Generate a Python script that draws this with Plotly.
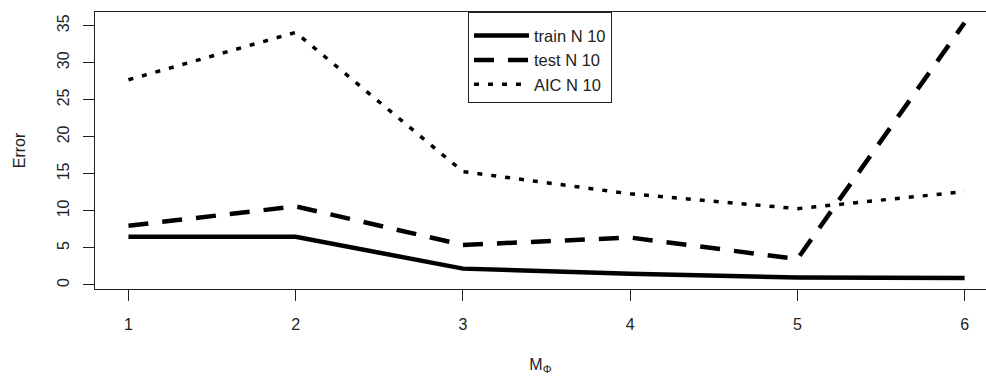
import plotly.graph_objects as go

m_phi = [1, 2, 3, 4, 5, 6]
train_n10 = [6.5, 6.5, 2.2, 1.5, 1.0, 0.95]
test_n10 = [8.0, 10.6, 5.4, 6.4, 3.5, 35.4]
aic_n10 = [27.7, 34.1, 15.3, 12.3, 10.3, 12.6]
y_ticks = [0, 5, 10, 15, 20, 25, 30, 35]
x_ticks = [1, 2, 3, 4, 5, 6]

FONT = "Liberation Sans, Arial, sans-serif"

fig = go.Figure()
fig.add_trace(go.Scatter(x=m_phi, y=train_n10, mode="lines", name="train N 10",
                         line=dict(color="black", width=4.5)))
fig.add_trace(go.Scatter(x=m_phi, y=test_n10, mode="lines", name="test N 10",
                         line=dict(color="black", width=4.5, dash="20px,14px")))
fig.add_trace(go.Scatter(x=m_phi, y=aic_n10, mode="lines", name="AIC N 10",
                         line=dict(color="black", width=3.5, dash="5px,9px")))

fig.update_layout(
    width=986, height=380,
    margin=dict(l=95, r=0, t=12, b=91),
    paper_bgcolor="white", plot_bgcolor="white",
    font=dict(family=FONT, size=16, color="#222"),
    showlegend=True,
    legend=dict(x=0.4186, y=1, xanchor="left", yanchor="top",
                bordercolor="#222", borderwidth=1, bgcolor="white",
                font=dict(size=16.5), tracegroupgap=0, itemwidth=55,
                title=dict(text=" ", font=dict(size=4))),
    xaxis=dict(range=[0.8, 6.128], tickvals=x_ticks, ticks="outside", ticklen=11,
               tickcolor="#222", showline=True, linecolor="#222", mirror=True,
               showgrid=False, zeroline=False, ticklabelstandoff=10,
               title=dict(text="M<sub>Φ</sub>", standoff=26, font=dict(size=16))),
    yaxis=dict(range=[-0.55, 36.85], tickvals=y_ticks, ticks="outside", ticklen=11,
               tickcolor="#222", showline=True, linecolor="#222",
               showgrid=False, zeroline=False, tickangle=-90, ticklabelstandoff=8,
               title=dict(text="Error", standoff=24, font=dict(size=16))),
)

fig.write_html("out.html")
